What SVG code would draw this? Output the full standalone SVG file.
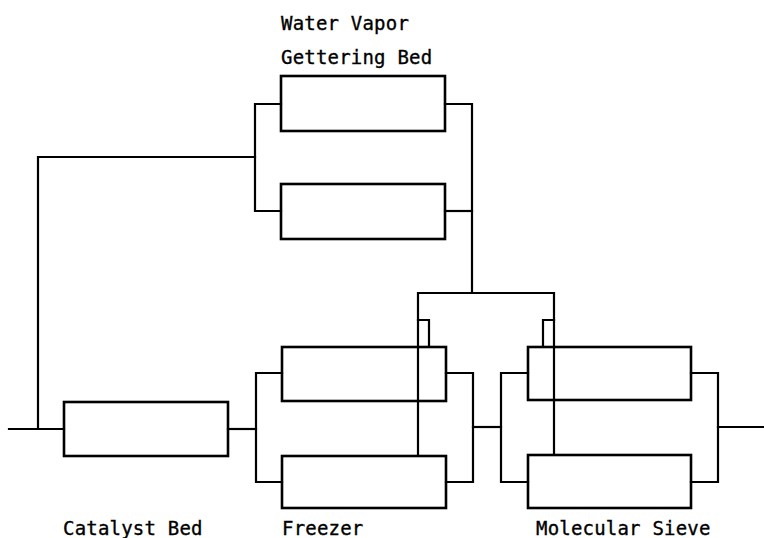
<svg xmlns="http://www.w3.org/2000/svg" width="764" height="538" viewBox="0 0 764 538">
<style>
.box{fill:none;stroke:#000;stroke-width:2.6}
.ln{fill:none;stroke:#000;stroke-width:2.2;stroke-linejoin:miter;stroke-linecap:square}
.lbl{font-family:"DejaVu Sans Mono","Liberation Mono",monospace;font-size:19px;letter-spacing:0.2px;fill:#000;stroke:#000;stroke-width:0.35}
</style>
<rect width="764" height="538" fill="#fff"/>
<g id="connectors">
<path class="ln" d="M9,429 H64"/>
<path class="ln" d="M38,429 V157 H255"/>
<path class="ln" d="M281,104 H255 V211 H281"/>
<path class="ln" d="M445,104 H472 V293"/>
<path class="ln" d="M445,211 H472"/>
<path class="ln" d="M418,456 V293 H554 V454"/>
<path class="ln" d="M418,320 H429 V347"/>
<path class="ln" d="M554,320 H543 V347"/>
<path class="ln" d="M228,429 H256"/>
<path class="ln" d="M282,373 H256 V482 H282"/>
<path class="ln" d="M446,373 H473 V482 H446"/>
<path class="ln" d="M473,427 H501"/>
<path class="ln" d="M528,373 H501 V482 H528"/>
<path class="ln" d="M691,373 H718 V482 H691"/>
<path class="ln" d="M718,427 H764"/>
</g>
<g id="wv1"><rect class="box" x="281" y="76" width="164" height="55"/></g>
<g id="wv2"><rect class="box" x="281" y="184" width="164" height="55"/></g>
<g id="catalyst"><rect class="box" x="64" y="402" width="164" height="54"/></g>
<g id="freezer1"><rect class="box" x="282" y="347" width="164" height="54"/></g>
<g id="freezer2"><rect class="box" x="282" y="456" width="164" height="52"/></g>
<g id="sieve1"><rect class="box" x="528" y="347" width="163" height="53"/></g>
<g id="sieve2"><rect class="box" x="528" y="455" width="163" height="53"/></g>
<g id="labels">
<text class="lbl" x="281" y="30">Water Vapor</text>
<text class="lbl" x="281" y="64">Gettering Bed</text>
<text class="lbl" x="63" y="535">Catalyst Bed</text>
<text class="lbl" x="282" y="535">Freezer</text>
<text class="lbl" x="536" y="535">Molecular Sieve</text>
</g>
</svg>
